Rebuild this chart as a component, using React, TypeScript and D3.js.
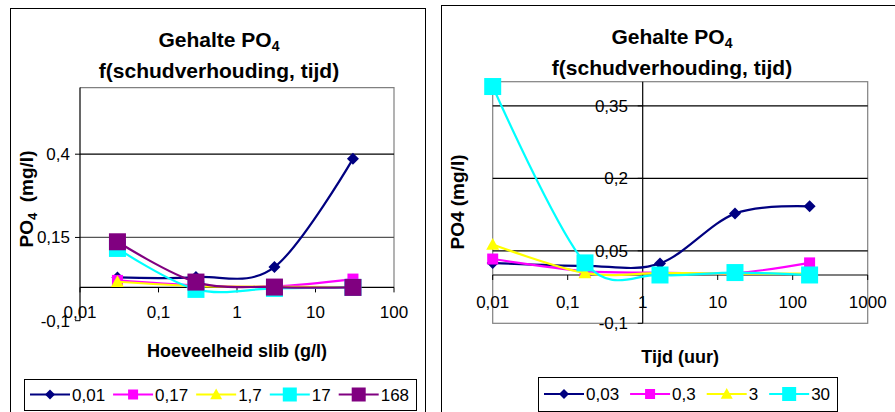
import React from "react";
import * as d3 from "d3";

// ---------- Data ----------
// Left chart: x = hoeveelheid slib (g/l), one series per schudtijd (uur)
const slibX = [0.03, 0.3, 3, 30];
const leftSeriesNames = ["0,01", "0,17", "1,7", "17", "168"];
const leftT001 = [0.03, 0.031, 0.061, 0.386];
const leftT017 = [0.021, 0.006, 0.003, 0.025];
const leftT17 = [0.017, 0.004, 0.002, 0.001];
const leftT170 = [0.117, -0.006, -0.003, 0.0];
const leftT168 = [0.137, 0.016, 0.001, 0.0];

// Right chart: x = tijd (uur), one series per hoeveelheid slib (g/l)
const tijdX = [0.01, 0.17, 1.7, 17, 168];
const rightSeriesNames = ["0,03", "0,3", "3", "30"];
const rightS003 = [0.025, 0.019, 0.024, 0.127, 0.142];
const rightS03 = [0.033, 0.008, 0.005, 0.004, 0.025];
const rightS3 = [0.063, 0.004, 0.004, 0.003, 0.003];
const rightS30 = [0.39, 0.025, 0.0, 0.005, 0.0];

const leftXTicks = [0.01, 0.1, 1, 10, 100];
const leftYTicks = [-0.1, 0.15, 0.4];
const rightXTicks = [0.01, 0.1, 1, 10, 100, 1000];
const rightYTicks = [-0.1, 0.05, 0.2, 0.35];

// ---------- Styles ----------
const FONT = "'Liberation Sans', Arial, sans-serif";
const styles = [
  { color: "#000080", marker: "diamond", size: 12, legendSize: 10 },
  { color: "#FF00FF", marker: "square", size: 11, legendSize: 10 },
  { color: "#FFFF00", marker: "triangle", size: 13, legendSize: 12 },
  { color: "#00FFFF", marker: "square", size: 17, legendSize: 14 },
  { color: "#800080", marker: "square", size: 17, legendSize: 14 },
];

const fmt = (v: number) => String(v).replace(".", ",");
const textWidth = (s: string, fs: number) =>
  s.split("").reduce((a, c) => a + (c === "," ? 0.278 : c === "-" ? 0.333 : 0.556), 0) * fs;

function Marker({ type, x, y, s, color }: any) {
  const h = s / 2;
  if (type === "diamond")
    return <polygon points={`${x},${y - h} ${x + h},${y} ${x},${y + h} ${x - h},${y}`} fill={color} />;
  if (type === "triangle")
    return <polygon points={`${x},${y - h} ${x + h},${y + h * 0.8} ${x - h},${y + h * 0.8}`} fill={color} />;
  return <rect x={x - h} y={y - h} width={s} height={s} fill={color} />;
}

function Chart(props: any) {
  const {
    frame, plot, xDomain, yDomain, xTicks, yTicks, yCross, series, xVals, names,
    titleX, titleY1, titleY2, xTitle, xTitleY, yTitleX, yTitleY, yTitleSub,
    xLabelY, yLabelRight, legend, plotBorder, sideGray,
  } = props;
  const x = d3.scaleLog().domain(xDomain).range([plot.x0, plot.x1]);
  const y = d3.scaleLinear().domain(yDomain).range([plot.y1, plot.y0]);
  const line = d3
    .line<number>()
    .x((_, i) => x(xVals[i]))
    .y((d) => y(d))
    .curve(d3.curveCardinal.tension(0));
  const yAxisX = x(yCross);
  const y0 = y(0);
  const fsTick = 17;
  const fsLegend = 17;

  // legend layout
  let cx = legend.x + 6;
  const items = names.map((n: string, i: number) => {
    const it = { x: cx, name: n, st: styles[i] };
    cx += 40 + 3 + textWidth(n, fsLegend) + legend.gap;
    return it;
  });
  const ly = (legend.y0 + legend.y1) / 2;

  return (
    <g>
      <rect x={frame.x + 0.5} y={frame.y + 0.5} width={frame.w} height={frame.h} fill="white" stroke="black" strokeWidth={1} />
      {/* title */}
      <text x={titleX} y={titleY1} textAnchor="middle" fontFamily={FONT} fontWeight="bold" fontSize={21}>
        Gehalte PO<tspan fontSize={14} dy={4}>4</tspan>
      </text>
      <text x={titleX} y={titleY2} textAnchor="middle" fontFamily={FONT} fontWeight="bold" fontSize={21}>
        f(schudverhouding, tijd)
      </text>
      {/* plot area border */}
      {plotBorder === "full" ? (
        <rect x={plot.x0} y={plot.y0} width={plot.x1 - plot.x0} height={plot.y1 - plot.y0} fill="none" stroke="#808080" strokeWidth={1.2} />
      ) : (
        <path d={`M${plot.x0},${plot.y0}H${plot.x1}V${y0}`} fill="none" stroke="#808080" strokeWidth={1.2} />
      )}
      {/* gridlines */}
      {yTicks
        .filter((t: number) => t !== yDomain[0])
        .map((t: number) => (
          <line key={t} x1={plot.x0} x2={plot.x1} y1={y(t)} y2={y(t)} stroke={sideGray && t === 0.15 ? "#555" : "black"} strokeWidth={1.2} />
        ))}
      {/* x axis */}
      <line x1={plot.x0} x2={plot.x1} y1={y0} y2={y0} stroke="black" strokeWidth={1.2} />
      {xTicks.map((t: number) => (
        <line key={"xt" + t} x1={x(t)} x2={x(t)} y1={y0} y2={y0 + 5} stroke="black" strokeWidth={1} />
      ))}
      {xTicks.map((t: number) => (
        <text key={"xl" + t} x={x(t)} y={xLabelY} textAnchor="middle" fontFamily={FONT} fontSize={fsTick}>
          {fmt(t)}
        </text>
      ))}
      {/* y axis */}
      <line x1={yAxisX} x2={yAxisX} y1={plot.y0} y2={plot.y1} stroke="black" strokeWidth={1.2} />
      {yTicks.map((t: number) => (
        <line key={"yt" + t} x1={yAxisX - 5} x2={yAxisX} y1={y(t)} y2={y(t)} stroke="black" strokeWidth={1} />
      ))}
      {yTicks.map((t: number) => (
        <text key={"yl" + t} x={yLabelRight} y={y(t) + 6} textAnchor="end" fontFamily={FONT} fontSize={fsTick}>
          {fmt(t)}
        </text>
      ))}
      {/* axis titles */}
      <text x={(plot.x0 + plot.x1) / 2} y={xTitleY} textAnchor="middle" fontFamily={FONT} fontWeight="bold" fontSize={18}>
        {xTitle}
      </text>
      <text transform={`translate(${yTitleX},${yTitleY}) rotate(-90)`} textAnchor="middle" dy="0.35em" fontFamily={FONT} fontWeight="bold" fontSize={19}>
        {yTitleSub ? (
          <>
            PO<tspan fontSize={13} dy={4}>4</tspan>
            <tspan dy={-4}>{"\u00a0\u00a0(mg/l)"}</tspan>
          </>
        ) : (
          "PO4 (mg/l)"
        )}
      </text>
      {/* series */}
      {series.map((vals: number[], i: number) => (
        <g key={"s" + i}>
          <path d={line(vals) || ""} fill="none" stroke={styles[i].color} strokeWidth={2.2} />
          {vals.map((v, j) => (
            <Marker key={j} type={styles[i].marker} x={x(xVals[j])} y={y(v)} s={styles[i].size} color={styles[i].color} />
          ))}
        </g>
      ))}
      {/* legend */}
      <rect x={legend.x + 0.5} y={legend.y0 + 0.5} width={legend.x1 - legend.x} height={legend.y1 - legend.y0} fill="white" stroke="black" strokeWidth={1} />
      {items.map((it: any, i: number) => (
        <g key={"lg" + i}>
          <line x1={it.x} x2={it.x + 40} y1={ly} y2={ly} stroke={it.st.color} strokeWidth={2.2} />
          <Marker type={it.st.marker} x={it.x + 20} y={ly} s={it.st.legendSize} color={it.st.color} />
          <text x={it.x + 42} y={ly + 6} fontFamily={FONT} fontSize={fsLegend}>
            {it.name}
          </text>
        </g>
      ))}
    </g>
  );
}

export default function App() {
  return (
    <svg width={895} height={412} style={{ position: "absolute", left: 0, top: 0, background: "white" }}>
      <rect x={0} y={0} width={895} height={412} fill="white" />
      <Chart
        frame={{ x: 10, y: 8, w: 415, h: 420 }}
        plot={{ x0: 80, x1: 394, y0: 87.6, y1: 320.7 }}
        xDomain={[0.01, 100]}
        yDomain={[-0.1, 0.6]}
        xTicks={leftXTicks}
        yTicks={leftYTicks}
        yCross={0.01}
        xVals={slibX}
        series={[leftT001, leftT017, leftT17, leftT170, leftT168]}
        names={leftSeriesNames}
        titleX={219}
        titleY1={47}
        titleY2={78}
        xTitle="Hoeveelheid slib (g/l)"
        xTitleY={357}
        yTitleX={26}
        yTitleY={199}
        yTitleSub={true}
        xLabelY={318}
        yLabelRight={70}
        legend={{ x: 24, x1: 416, y0: 379, y1: 410, gap: 7 }}
        plotBorder="partial"
        sideGray={true}
      />
      <Chart
        frame={{ x: 441, y: 5, w: 470, h: 420 }}
        plot={{ x0: 492.7, x1: 867.7, y0: 81.7, y1: 323.3 }}
        xDomain={[0.01, 1000]}
        yDomain={[-0.1, 0.4]}
        xTicks={rightXTicks}
        yTicks={rightYTicks}
        yCross={1}
        xVals={tijdX}
        series={[rightS003, rightS03, rightS3, rightS30]}
        names={rightSeriesNames}
        titleX={672}
        titleY1={44}
        titleY2={75}
        xTitle="Tijd (uur)"
        xTitleY={363}
        yTitleX={457}
        yTitleY={202}
        yTitleSub={false}
        xLabelY={308}
        yLabelRight={628}
        legend={{ x: 538, x1: 837, y0: 377, y1: 411, gap: 10 }}
        plotBorder="full"
        sideGray={false}
      />
    </svg>
  );
}
